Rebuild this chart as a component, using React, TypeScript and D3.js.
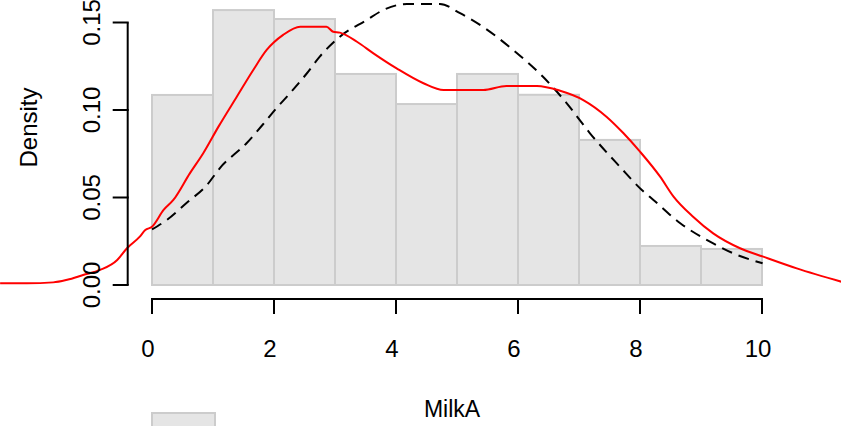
import React, { useEffect, useRef } from "react";
import * as d3 from "d3";

// histogram of MilkA (density scale)
const binEdges = [0, 1, 2, 3, 4, 5, 6, 7, 8, 9, 10];
const binDensity = [0.1086, 0.1571, 0.152, 0.1206, 0.1034, 0.1206, 0.1087, 0.0829, 0.0223, 0.0206];

// kernel density (red)
const kdeX = [-2.49, -2.16, -2.05, -1.62, -1.39, -1.13, -0.85, -0.57, -0.41, -0.2, -0.11, 0.0, 0.19, 0.35, 0.62, 0.84, 1.09, 1.39, 1.66, 1.88, 2.15, 2.43, 2.86, 2.97, 3.08, 3.36, 3.63, 4.01, 4.45, 4.78, 5.43, 5.81, 6.31, 6.69, 7.07, 7.45, 7.73, 8.0, 8.33, 8.55, 8.87, 9.2, 9.64, 10.02, 10.57, 11.3];
const kdeY = [0.001, 0.001, 0.001, 0.0015, 0.003, 0.0057, 0.0086, 0.0143, 0.021, 0.0276, 0.0314, 0.0333, 0.0429, 0.0486, 0.0638, 0.0753, 0.0905, 0.1076, 0.1229, 0.1343, 0.1429, 0.1476, 0.1476, 0.1447, 0.1442, 0.139, 0.1324, 0.1238, 0.1153, 0.1114, 0.1114, 0.1137, 0.1137, 0.111, 0.1057, 0.0962, 0.0867, 0.0762, 0.0619, 0.0505, 0.039, 0.0295, 0.021, 0.0162, 0.0095, 0.0019];

// fitted density (black dashed)
const fitX = [0.0, 0.24, 0.57, 0.9, 1.11, 1.55, 1.88, 2.04, 2.26, 2.54, 2.75, 3.08, 3.52, 3.79, 4.18, 4.72, 5.05, 5.46, 5.92, 6.41, 6.8, 7.18, 7.67, 8.03, 8.22, 8.66, 9.2, 9.53, 10.01];
const fitY = [0.0318, 0.0371, 0.047, 0.0571, 0.0667, 0.081, 0.0943, 0.101, 0.1095, 0.121, 0.1305, 0.1419, 0.1514, 0.1571, 0.1606, 0.1606, 0.1553, 0.1467, 0.1343, 0.119, 0.1038, 0.0867, 0.0676, 0.0543, 0.0486, 0.0353, 0.0238, 0.0181, 0.0124];

const xTicks = [0, 2, 4, 6, 8, 10];
const yTicks = [0, 0.05, 0.1, 0.15];

const W = 841, H = 426;
const FONT = "'Liberation Sans', Arial, Helvetica, sans-serif";

export default function App() {
  const svgRef = useRef<SVGSVGElement>(null);

  useEffect(() => {
    const svg = d3.select(svgRef.current);
    svg.selectAll("*").remove();

    const x = d3.scaleLinear().domain([0, 10]).range([152, 762]);
    const y = d3.scaleLinear().domain([0, 0.15]).range([285, 22.5]);

    // bars
    svg.append("g")
      .selectAll("rect")
      .data(binDensity)
      .enter()
      .append("rect")
      .attr("x", (d, i) => x(binEdges[i]))
      .attr("width", (d, i) => x(binEdges[i + 1]) - x(binEdges[i]))
      .attr("y", d => y(d))
      .attr("height", d => y(0) - y(d))
      .attr("fill", "#e5e5e5")
      .attr("stroke", "#cccccc")
      .attr("stroke-width", 2);

    const line = d3.line<[number, number]>()
      .x(d => x(d[0]))
      .y(d => y(d[1]))
      .curve(d3.curveMonotoneX);

    svg.append("path")
      .attr("d", line(fitX.map((v, i) => [v, fitY[i]]) as [number, number][]))
      .attr("fill", "none")
      .attr("stroke", "black")
      .attr("stroke-width", 2)
      .attr("stroke-dasharray", "11,7");

    svg.append("path")
      .attr("d", line(kdeX.map((v, i) => [v, kdeY[i]]) as [number, number][]))
      .attr("fill", "none")
      .attr("stroke", "#ff0000")
      .attr("stroke-width", 2);

    // x axis
    const xAxis = svg.append("g").attr("transform", "translate(0,299)");
    xAxis.append("line")
      .attr("x1", x(0)).attr("x2", x(10))
      .attr("stroke", "black").attr("stroke-width", 2);
    xAxis.selectAll("line.tick")
      .data(xTicks)
      .enter()
      .append("line")
      .attr("class", "tick")
      .attr("x1", d => x(d)).attr("x2", d => x(d))
      .attr("y1", -1).attr("y2", 15)
      .attr("stroke", "black").attr("stroke-width", 2);
    xAxis.selectAll("text")
      .data(xTicks)
      .enter()
      .append("text")
      .attr("x", d => x(d) - 4)
      .attr("y", 58)
      .attr("text-anchor", "middle")
      .attr("font-family", FONT)
      .attr("font-size", 24)
      .text(d => String(d));

    // y axis
    const yAxis = svg.append("g").attr("transform", "translate(127.7,0)");
    yAxis.append("line")
      .attr("y1", y(0)).attr("y2", y(0.15))
      .attr("stroke", "black").attr("stroke-width", 2);
    yAxis.selectAll("line.tick")
      .data(yTicks)
      .enter()
      .append("line")
      .attr("class", "tick")
      .attr("y1", d => y(d)).attr("y2", d => y(d))
      .attr("x1", 1).attr("x2", -15)
      .attr("stroke", "black").attr("stroke-width", 2);
    yAxis.selectAll("text")
      .data(yTicks)
      .enter()
      .append("text")
      .attr("transform", d => `translate(-28,${y(d)}) rotate(-90)`)
      .attr("text-anchor", "middle")
      .attr("font-family", FONT)
      .attr("font-size", 24)
      .text(d => d.toFixed(2));

    // axis titles
    svg.append("text")
      .attr("x", 452).attr("y", 417)
      .attr("text-anchor", "middle")
      .attr("font-family", FONT)
      .attr("font-size", 23)
      .text("MilkA");
    svg.append("text")
      .attr("transform", "translate(37,127.5) rotate(-90)")
      .attr("text-anchor", "middle")
      .attr("font-family", FONT)
      .attr("font-size", 24)
      .text("Density");

    // legend key (cut off at the bottom)
    svg.append("rect")
      .attr("x", 152).attr("y", 413)
      .attr("width", 63).attr("height", 30)
      .attr("fill", "#e5e5e5")
      .attr("stroke", "#cccccc")
      .attr("stroke-width", 2);
  }, []);

  return (
    <svg
      ref={svgRef}
      width={W}
      height={H}
      style={{ position: "absolute", left: 0, top: 0, background: "white" }}
    />
  );
}
